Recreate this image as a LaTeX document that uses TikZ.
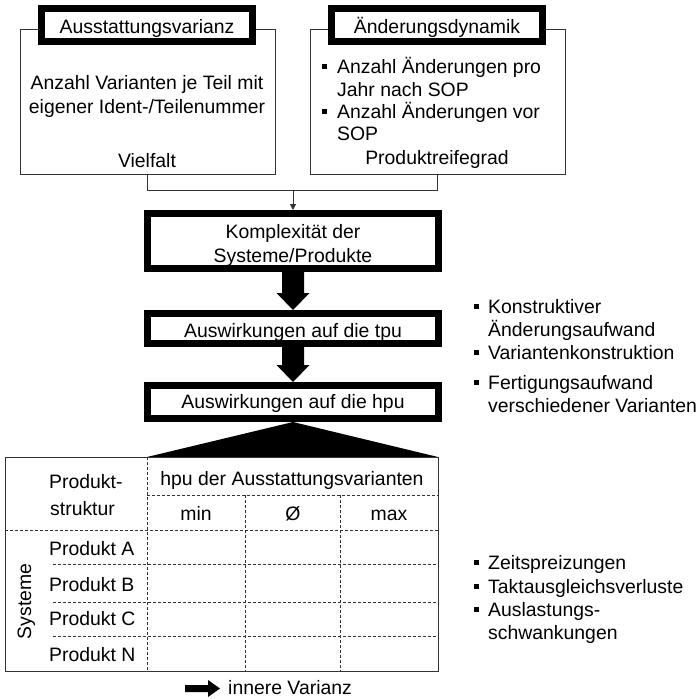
\documentclass[tikz,border=0pt]{standalone}
\usepackage{fontspec}
\setmainfont{Liberation Sans}
\usetikzlibrary{calc,arrows.meta}
\newcommand\fs{\fontsize{19.4pt}{23.3pt}\selectfont}
\newcommand\sqb[1]{\makebox[#1][l]{\rule[4.5pt]{5pt}{5pt}}}
\definecolor{lg}{gray}{0.2}
% filled block arrow from the bottom of one box to the top of the next
\newcommand\blockarrow[2]{%
  \fill ($(#1)+(-11,0)$) -- ($(#2)+(-11,-17)$) -- ($(#2)+(-16.5,-17)$) -- (#2)
    -- ($(#2)+(16.5,-17)$) -- ($(#2)+(11,-17)$) -- ($(#1)+(11,0)$) -- cycle;}
\begin{document}
\begin{tikzpicture}[x=1pt,y=-1pt,
  txt/.style={font=\fs, inner sep=0pt, anchor=base},
  txl/.style={font=\fs, inner sep=0pt, anchor=base west},
  heavybox/.style={draw=black, line width=7pt, fill=white, inner sep=0pt},
  lightbox/.style={draw=lg, line width=1pt, fill=white, inner sep=0pt},
  conn/.style={draw=lg, line width=1pt},
  grid/.style={draw=lg, line width=0.9pt, dash pattern=on 3pt off 2pt},
]
\useasboundingbox (0,0) rectangle (698,699);

% upper two source boxes
\node[lightbox, minimum width=255pt, minimum height=145pt] (lb) at (147.5,101.5) {};
\node[lightbox, minimum width=255pt, minimum height=145pt] (rb) at (437.5,101.5) {};
\node[heavybox, minimum width=211pt, minimum height=33pt] (lt) at (147,25) {};
\node[heavybox, minimum width=211pt, minimum height=33pt] (rt) at (437,25) {};
\node[txt] (ltx) at (147,33) {Ausstattungsvarianz};
\node[txt] (rtx) at (437,33) {Änderungsdynamik};

\node[txt] (l1) at (147,89) {Anzahl Varianten je Teil mit};
\node[txt] (l2) at (147,113) {eigener Ident-/Teilenummer};
\node[txt] (l3) at (147,167) {Vielfalt};

\node[txl] (r1) at (322,73) {\sqb{15pt}Anzahl Änderungen pro};
\node[txl] (r2) at (337,96) {Jahr nach SOP};
\node[txl] (r3) at (322,118) {\sqb{15pt}Anzahl Änderungen vor};
\node[txl] (r4) at (337,140) {SOP};
\node[txt] (r5) at (437,164) {Produktreifegrad};

% joining connector
\coordinate (j) at (293,190);
\draw[conn] (lb.south) -- ++(0,16) -| (rb.south);

% main chain
\node[heavybox, minimum width=291pt, minimum height=55pt] (k) at (293,241) {};
\node[txt] (k1) at (293,238) {Komplexität der};
\node[txt] (k2) at (293,262) {Systeme/Produkte};
\node[heavybox, minimum width=291pt, minimum height=30pt] (t) at (293,328.5) {};
\node[txt] (tx) at (293,337) {Auswirkungen auf die tpu};
\node[heavybox, minimum width=291pt, minimum height=33pt] (h) at (293,402) {};
\node[txt] (hx) at (293,408) {Auswirkungen auf die hpu};

\draw[conn, -{Triangle[width=6pt,length=6pt]}] (j) -- (k.north);
\blockarrow{k.south}{t.north}
\blockarrow{t.south}{h.north}

% effects listed on the right
\node[txl] (e1) at (474,313) {\sqb{14pt}Konstruktiver};
\node[txl] (e2) at (488,336) {Änderungsaufwand};
\node[txl] (e3) at (474,359) {\sqb{14pt}Variantenkonstruktion};
\node[txl] (e4) at (474,389) {\sqb{14pt}Fertigungsaufwand};
\node[txl] (e5) at (488,412) {verschiedener Varianten};
\node[txl] (e6) at (474,569) {\sqb{14pt}Zeitspreizungen};
\node[txl] (e7) at (474,593) {\sqb{14pt}Taktausgleichsverluste};
\node[txl] (e8) at (474,616) {\sqb{14pt}Auslastungs-};
\node[txl] (e9) at (488,639) {schwankungen};

% fan from hpu box to the table
\coordinate (fl) at (147,457);
\coordinate (fr) at (438,457);
\fill (h.south) -- (fl) -- (fr) -- cycle;

% table
\draw[lg, line width=1pt] (5,457) rectangle (438,671);
\draw[grid] (147,457) -- (147,671);
\draw[grid] (147,495) -- (438,495);
\draw[grid] (245,495) -- (245,671);
\draw[grid] (340,495) -- (340,671);
\draw[grid] (5,530) -- (438,530);
\draw[grid] (53,564) -- (438,564);
\draw[grid] (53,602) -- (438,602);
\draw[grid] (53,636) -- (438,636);

\node[txl] (p1) at (49,488) {Produkt-};
\node[txl] (p2) at (50,515) {struktur};
\node[txt] (hv) at (292,485) {hpu der Ausstattungsvarianten};
\node[txt] (cmin) at (196,520) {min};
\node[txt] (cavg) at (293,520) {Ø};
\node[txt] (cmax) at (389,520) {max};
\node[txl] (pa) at (49,555) {Produkt A};
\node[txl] (pb) at (49,591) {Produkt B};
\node[txl] (pc) at (49,625) {Produkt C};
\node[txl] (pn) at (49,661) {Produkt N};
\node[txt, rotate=90] (sy) at (31,601.5) {Systeme};

% legend arrow
\coordinate (ia) at (185,688.5);
\coordinate (ib) at (220,688.5);
\node[txl] (iv) at (228,694) {innere Varianz};
\fill ($(ia)+(0,-3.5)$) -- ($(ib)+(-12,-3.5)$) -- ($(ib)+(-12,-8.5)$) -- (ib)
  -- ($(ib)+(-12,8.5)$) -- ($(ib)+(-12,3.5)$) -- ($(ia)+(0,3.5)$) -- cycle;
\end{tikzpicture}
\end{document}
